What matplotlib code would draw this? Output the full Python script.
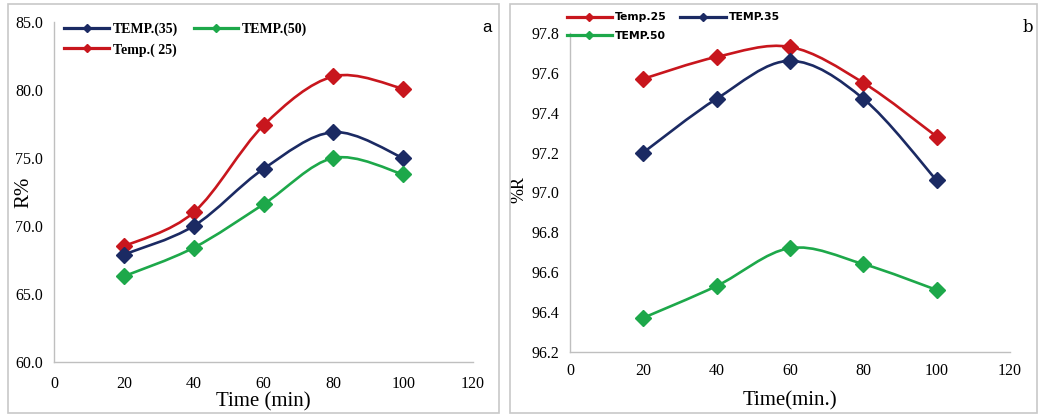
import numpy as np
import matplotlib
matplotlib.use('Agg')
import matplotlib.pyplot as plt
from matplotlib.path import Path
from matplotlib.patches import PathPatch, Rectangle
from matplotlib.lines import Line2D

# Removal efficiency vs contact time at three temperatures
time_min = [20, 40, 60, 80, 100]

# panel a
r_a_25 = [68.5, 71.0, 77.4, 81.0, 80.1]
r_a_35 = [67.9, 70.0, 74.2, 76.9, 75.0]
r_a_50 = [66.3, 68.4, 71.6, 75.0, 73.8]
labels_a = ['Temp.( 25)', 'TEMP.(35)', 'TEMP.(50)']

# panel b
r_b_25 = [97.57, 97.68, 97.73, 97.55, 97.28]
r_b_35 = [97.20, 97.47, 97.66, 97.47, 97.06]
r_b_50 = [96.37, 96.53, 96.72, 96.64, 96.51]
labels_b = ['Temp.25', 'TEMP.35', 'TEMP.50']

RED = '#C8161D'
NAVY = '#1B2A63'
GREEN = '#1DA84A'
colors = [RED, NAVY, GREEN]

SERIF = 'Liberation Serif'
W, H = 1038, 416


def smooth_path(x, y):
    # Bezier segments like a spreadsheet "smoothed line"
    x = np.asarray(x, float)
    y = np.asarray(y, float)
    n = len(x)
    verts = [(x[0], y[0])]
    codes = [Path.MOVETO]
    for i in range(n - 1):
        i0 = max(i - 1, 0)
        i3 = min(i + 2, n - 1)
        c1 = (x[i] + (x[i + 1] - x[i0]) / 6, y[i] + (y[i + 1] - y[i0]) / 6)
        c2 = (x[i + 1] - (x[i3] - x[i]) / 6, y[i + 1] - (y[i3] - y[i]) / 6)
        verts += [c1, c2, (x[i + 1], y[i + 1])]
        codes += [Path.CURVE4] * 3
    return Path(verts, codes)


def draw_series(ax, x, y, color, msize):
    ax.add_patch(PathPatch(smooth_path(x, y), fill=False, edgecolor=color,
                           lw=1.9, zorder=3))
    ax.plot(x, y, ls='none', marker='D', ms=msize, color=color,
            mec=color, zorder=4)


def style_axes(ax):
    for s in ['top', 'right']:
        ax.spines[s].set_visible(False)
    for s in ['left', 'bottom']:
        ax.spines[s].set_color('#BFBFBF')
        ax.spines[s].set_linewidth(1.0)
    ax.tick_params(length=0, labelsize=11.5, pad=8)
    for t in ax.get_xticklabels() + ax.get_yticklabels():
        t.set_family(SERIF)


fig = plt.figure(figsize=(W / 100, H / 100), dpi=100)

# panel frames
fig.patches.append(Rectangle((8 / W, 3 / H), 491 / W, 409 / H,
                             transform=fig.transFigure, fill=False,
                             ec='#C8C8C8', lw=1.2))
fig.patches.append(Rectangle((510 / W, 3 / H), 527 / W, 409 / H,
                             transform=fig.transFigure, fill=False,
                             ec='#C8C8C8', lw=1.2))

# ---- panel a ----
ax1 = fig.add_axes([54 / W, 1 - 362 / H, 419 / W, 340 / H])
for ys, c in zip([r_a_25, r_a_35, r_a_50], colors):
    draw_series(ax1, time_min, ys, c, 8)
ax1.set_xlim(0, 120)
ax1.set_ylim(60, 85)
ax1.set_xticks(range(0, 121, 20))
ax1.set_yticks(np.arange(60, 85.1, 5))
ax1.set_yticklabels(['%.1f' % v for v in np.arange(60, 85.1, 5)])
style_axes(ax1)
ax1.tick_params(axis='x', pad=10)
ax1.set_xlabel('Time (min)', family=SERIF, fontsize=15)
ax1.xaxis.set_label_coords(0.5, -0.09)
ax1.set_ylabel('R%', family=SERIF, fontsize=15)
ax1.yaxis.set_label_coords(-0.05, 0.5)
fig.text(487 / W, 1 - 27 / H, 'a', fontsize=12, family='Liberation Sans',
         ha='center', va='center')

h_a = [Line2D([], [], color=colors[i], lw=2.3, marker='D', ms=4)
       for i in range(3)]
ax1.legend([h_a[1], h_a[0], h_a[2]], [labels_a[1], labels_a[0], labels_a[2]],
           ncol=2, loc='upper left', bbox_to_anchor=(-0.005, 1.035),
           frameon=False, handlelength=3.2, handletextpad=0.3,
           columnspacing=1.1, labelspacing=0.5,
           prop={'family': SERIF, 'weight': 'bold', 'size': 10})

# ---- panel b ----
ax2 = fig.add_axes([570 / W, 1 - 351.7 / H, 440 / W, 318.7 / H])
for ys, c in zip([r_b_25, r_b_35, r_b_50], colors):
    draw_series(ax2, time_min, ys, c, 8)
ax2.set_xlim(0, 120)
ax2.set_ylim(96.2, 97.8)
ax2.set_xticks(range(0, 121, 20))
ax2.set_yticks(np.arange(96.2, 97.81, 0.2))
ax2.set_yticklabels(['%.1f' % v for v in np.arange(96.2, 97.81, 0.2)])
style_axes(ax2)
ax2.set_xlabel('Time(min.)', family=SERIF, fontsize=15)
ax2.xaxis.set_label_coords(0.5, -0.125)
ax2.set_ylabel('%R', family=SERIF, fontsize=13)
ax2.yaxis.set_label_coords(-0.098, 0.51)
fig.text(1033 / W, 1 - 27 / H, 'b', family='DejaVu Serif',
         fontsize=12, ha='right', va='center')

h_b = [Line2D([], [], color=colors[i], lw=2.3, marker='D', ms=4)
       for i in range(3)]
ax2.legend([h_b[0], h_b[2], h_b[1]], [labels_b[0], labels_b[2], labels_b[1]],
           ncol=2, loc='upper left', bbox_to_anchor=(-0.03, 1.095),
           frameon=False, handlelength=4.2, handletextpad=0.3,
           columnspacing=1.2, labelspacing=0.75,
           prop={'family': 'DejaVu Sans', 'weight': 'bold', 'size': 7.8})

fig.savefig('out.png', dpi=100)
